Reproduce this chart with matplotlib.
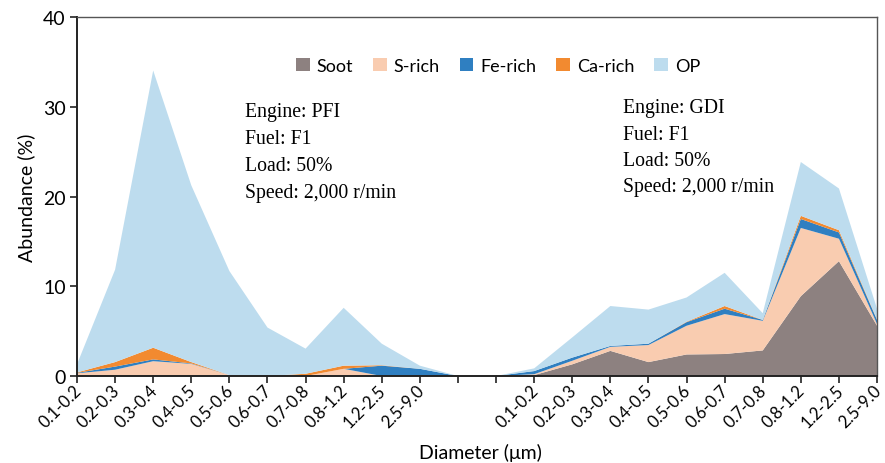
import matplotlib
matplotlib.use("Agg")
import matplotlib.pyplot as plt
from matplotlib.patches import Patch
from matplotlib.transforms import ScaledTranslation
import numpy as np

# Particle size bins (µm)
pfi_labels = ["0.1-0.2", "0.2-0.3", "0.3-0.4", "0.4-0.5", "0.5-0.6",
              "0.6-0.7", "0.7-0.8", "0.8-1.2", "1.2-2.5", "2.5-9.0"]
gdi_labels = list(pfi_labels)

# Abundance (%) per particle class, PFI engine
pfi_soot = [0.0, 0.0, 0.0, 0.0, 0.0, 0.0, 0.0, 0.0, 0.0, 0.0]
pfi_s    = [0.3, 0.7, 1.65, 1.35, 0.1, 0.0, 0.0, 0.8, 0.0, 0.0]
pfi_fe   = [0.05, 0.35, 0.2, 0.05, 0.0, 0.0, 0.0, 0.0, 1.15, 0.8]
pfi_ca   = [0.05, 0.5, 1.3, 0.15, 0.0, 0.0, 0.25, 0.35, 0.05, 0.0]
pfi_op   = [0.9, 10.3, 30.9, 19.7, 11.6, 5.4, 2.8, 6.45, 2.4, 0.35]

# Abundance (%) per particle class, GDI engine
gdi_soot = [0.1, 1.3, 2.8, 1.55, 2.4, 2.45, 2.85, 8.9, 12.8, 5.6]
gdi_s    = [0.1, 0.4, 0.45, 1.9, 3.2, 4.45, 3.3, 7.6, 2.5, 0.2]
gdi_fe   = [0.35, 0.35, 0.1, 0.15, 0.4, 0.6, 0.1, 1.0, 0.7, 0.45]
gdi_ca   = [0.0, 0.0, 0.0, 0.0, 0.05, 0.3, 0.0, 0.35, 0.25, 0.05]
gdi_op   = [0.3, 2.25, 4.45, 3.8, 2.7, 3.7, 0.75, 6.0, 4.65, 1.2]

series_names = ["Soot", "S-rich", "Fe-rich", "Ca-rich", "OP"]
colors = ["#8d8180", "#f9ccb0", "#2f7fc1", "#f28a30", "#bddcee"]

gap = [0.0, 0.0]
stacks = [
    pfi_soot + gap + gdi_soot,
    pfi_s + gap + gdi_s,
    pfi_fe + gap + gdi_fe,
    pfi_ca + gap + gdi_ca,
    pfi_op + gap + gdi_op,
]
tick_labels = pfi_labels + ["", ""] + gdi_labels
x = np.arange(len(tick_labels))

sans = ["Lato", "DejaVu Sans"]
serif = ["Liberation Serif", "DejaVu Serif"]

fig = plt.figure(figsize=(8.85, 4.64), dpi=100)
ax = fig.add_axes([0.087, 0.1875, 0.904, 0.7735])

ax.stackplot(x, *stacks, colors=colors, linewidth=0)

ax.set_xlim(0, len(x) - 1)
ax.set_ylim(0, 40)
ax.set_yticks([0, 10, 20, 30, 40])
ax.set_xticks(x)
ax.set_xticklabels([])
# rotated category labels, nudged left so the last one stays on the canvas
label_tf = ax.get_xaxis_transform() + ScaledTranslation(-4 / 100, -6 / 100,
                                                        fig.dpi_scale_trans)
for xi, lab in zip(x, tick_labels):
    ax.text(xi, 0, lab, transform=label_tf, rotation=45, ha="right",
            va="top", rotation_mode="anchor", fontsize=12, family=sans)
for lab in ax.get_yticklabels():
    lab.set_fontsize(14)
    lab.set_family(sans)
ax.tick_params(axis="x", length=5, width=1.2, color="#222222", pad=2)
ax.tick_params(axis="y", length=5, width=1.2, color="#222222", pad=3)

for side in ["left", "bottom"]:
    ax.spines[side].set_color("#222222")
    ax.spines[side].set_linewidth(1.4)
for side in ["top", "right"]:
    ax.spines[side].set_color("#555555")
    ax.spines[side].set_linewidth(1.0)

ax.set_ylabel("Abundance (%)", fontsize=14, family=sans, labelpad=6)
fig.text(480 / 885, 1 - 453 / 464, "Diameter (μm)", fontsize=14, family=sans,
         ha="center", va="center")

handles = [Patch(facecolor=c, edgecolor="none") for c in colors]
fig.legend(handles, series_names, loc="center", bbox_to_anchor=(0.563, 0.856),
           ncol=5, frameon=False, handlelength=0.75, handleheight=0.75,
           handletextpad=0.4, columnspacing=1.1,
           prop={"family": sans, "size": 13})

pfi_text = ["Engine: PFI", "Fuel: F1", "Load: 50%", "Speed: 2,000 r/min"]
gdi_text = ["Engine: GDI", "Fuel: F1", "Load: 50%", "Speed: 2,000 r/min"]
for i, line in enumerate(pfi_text):
    fig.text(245 / 885, 1 - (112 + i * 27.3) / 464, line, fontsize=14.2,
             family=serif, va="center", ha="left")
for i, line in enumerate(gdi_text):
    fig.text(623 / 885, 1 - (109 + i * 26.3) / 464, line, fontsize=14.2,
             family=serif, va="center", ha="left")

fig.savefig("out.png", dpi=100)
